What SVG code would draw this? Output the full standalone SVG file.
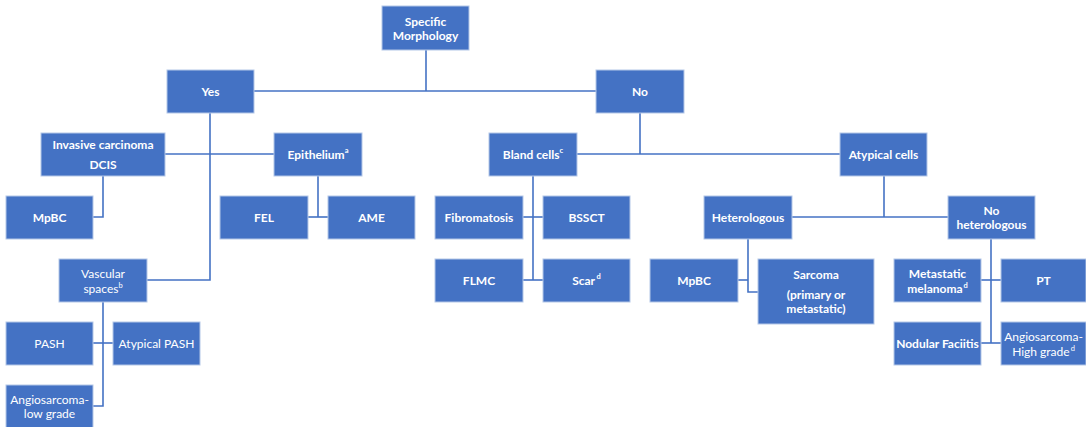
<svg xmlns="http://www.w3.org/2000/svg" width="1086" height="427" viewBox="0 0 1086 427">
<style>
.box{fill:#4472C4;stroke:#B4C7E7;stroke-width:1}
.t{font-family:Lato,"Open Sans","Liberation Sans",sans-serif;font-size:12px;fill:#FFFFFF;text-anchor:middle;dominant-baseline:central;font-weight:bold}
.n{font-weight:normal}
.sup{font-size:7.5px}
.c{fill:none;stroke:#4472C4;stroke-width:1.6}
</style>
<rect width="1086" height="427" fill="#FFFFFF"/>
<g id="connectors">
<path class="c" d="M426,50 V91"/>
<path class="c" d="M254,91 H596"/>
<path class="c" d="M210,113 V280 H147"/>
<path class="c" d="M165,154 H274"/>
<path class="c" d="M103,176 V217 H93"/>
<path class="c" d="M318,176 V217"/>
<path class="c" d="M308,217 H328"/>
<path class="c" d="M103,302 V406 H93"/>
<path class="c" d="M93,343 H113"/>
<path class="c" d="M640,113 V154"/>
<path class="c" d="M577,154 H840"/>
<path class="c" d="M533,176 V280"/>
<path class="c" d="M523,217 H543"/>
<path class="c" d="M523,280 H543"/>
<path class="c" d="M884,176 V217"/>
<path class="c" d="M792,217 H948"/>
<path class="c" d="M748,239 V292 H758"/>
<path class="c" d="M738,280 H748"/>
<path class="c" d="M991,239 V343"/>
<path class="c" d="M981,280 H1001"/>
<path class="c" d="M981,343 H1001"/>
</g>
<g id="specific"><rect class="box" x="382" y="6" width="87" height="44"/><text class="t" x="425.5" y="21">Specific</text><text class="t" x="425.5" y="35">Morphology</text></g>
<g id="yes"><rect class="box" x="167" y="70" width="87" height="43"/><text class="t" x="210.5" y="91">Yes</text></g>
<g id="no"><rect class="box" x="596" y="70" width="88" height="43"/><text class="t" x="640" y="91">No</text></g>
<g id="invasive"><rect class="box" x="41" y="133" width="124" height="43"/><text class="t" x="103" y="144">Invasive carcinoma</text><text class="t" x="103" y="164">DCIS</text></g>
<g id="epithelium"><rect class="box" x="274" y="133" width="88" height="43"/><text class="t" x="318" y="154">Epithelium<tspan class="sup" dy="-4">a</tspan></text></g>
<g id="bland"><rect class="box" x="489" y="133" width="88" height="43"/><text class="t" x="533" y="154">Bland cells<tspan class="sup" dy="-4">c</tspan></text></g>
<g id="atypical"><rect class="box" x="840" y="133" width="87" height="43"/><text class="t" x="883.5" y="154">Atypical cells</text></g>
<g id="mpbc1"><rect class="box" x="6" y="196" width="87" height="43"/><text class="t" x="49.5" y="217">MpBC</text></g>
<g id="fel"><rect class="box" x="220" y="196" width="88" height="43"/><text class="t" x="264" y="217">FEL</text></g>
<g id="ame"><rect class="box" x="328" y="196" width="87" height="43"/><text class="t" x="371.5" y="217">AME</text></g>
<g id="fibromatosis"><rect class="box" x="435" y="196" width="88" height="43"/><text class="t" x="479" y="217">Fibromatosis</text></g>
<g id="bssct"><rect class="box" x="543" y="196" width="87" height="43"/><text class="t" x="586.5" y="217">BSSCT</text></g>
<g id="heterologous"><rect class="box" x="704" y="196" width="88" height="43"/><text class="t" x="748" y="217">Heterologous</text></g>
<g id="noheterologous"><rect class="box" x="948" y="196" width="87" height="43"/><text class="t" x="991.5" y="210">No</text><text class="t" x="991.5" y="224">heterologous</text></g>
<g id="vascular"><rect class="box" x="59" y="259" width="88" height="43"/><text class="t n" x="103" y="273">Vascular</text><text class="t n" x="103" y="288">spaces<tspan class="sup" dy="-3.5">b</tspan></text></g>
<g id="flmc"><rect class="box" x="435" y="259" width="88" height="43"/><text class="t" x="479" y="280">FLMC</text></g>
<g id="scar"><rect class="box" x="543" y="259" width="87" height="43"/><text class="t" x="586.5" y="280">Scar<tspan class="sup" dy="-4" dx="1.5">d</tspan></text></g>
<g id="mpbc2"><rect class="box" x="650" y="259" width="88" height="43"/><text class="t" x="694" y="280">MpBC</text></g>
<g id="sarcoma"><rect class="box" x="758" y="259" width="116" height="65"/><text class="t" x="816" y="274">Sarcoma</text><text class="t" x="816" y="294">(primary or</text><text class="t" x="816" y="308">metastatic)</text></g>
<g id="melanoma"><rect class="box" x="894" y="259" width="87" height="43"/><text class="t" x="937.5" y="273">Metastatic</text><text class="t" x="937.5" y="288">melanoma<tspan class="sup" dy="-3.5" dx="1">d</tspan></text></g>
<g id="pt"><rect class="box" x="1001" y="259" width="85" height="43"/><text class="t" x="1043.5" y="280">PT</text></g>
<g id="pash"><rect class="box" x="6" y="322" width="87" height="43"/><text class="t n" x="49.5" y="343">PASH</text></g>
<g id="atypicalpash"><rect class="box" x="113" y="322" width="87" height="43"/><text class="t n" x="156.5" y="343">Atypical PASH</text></g>
<g id="nodular"><rect class="box" x="894" y="322" width="87" height="43"/><text class="t" x="937.5" y="343">Nodular Faciitis</text></g>
<g id="angiohigh"><rect class="box" x="1001" y="322" width="85" height="43"/><text class="t n" x="1043.5" y="336">Angiosarcoma-</text><text class="t n" x="1043.5" y="351">High grade<tspan class="sup" dy="-3.5" dx="1">d</tspan></text></g>
<g id="angiolow"><rect class="box" x="6" y="385" width="87" height="44"/><text class="t n" x="49.5" y="399">Angiosarcoma-</text><text class="t n" x="49.5" y="413">low grade</text></g>
</svg>
